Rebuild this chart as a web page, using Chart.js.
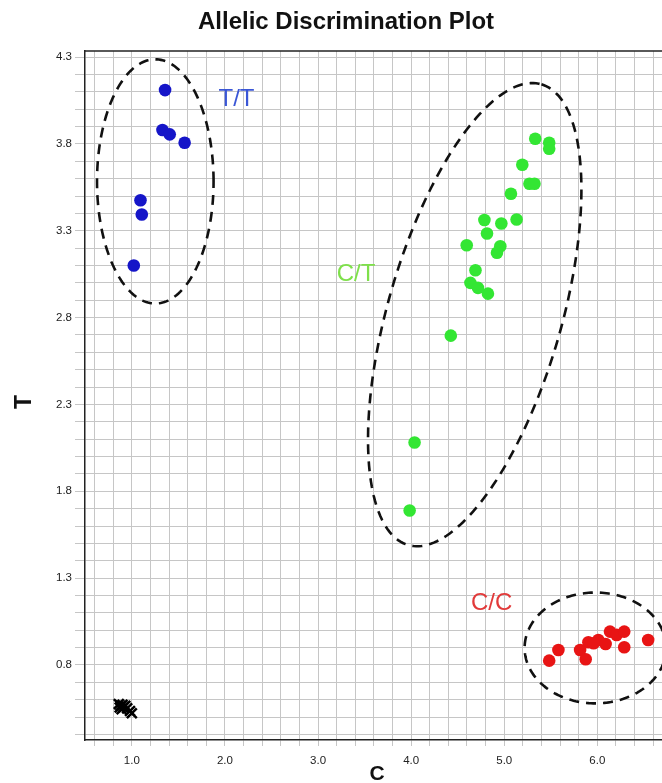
<!DOCTYPE html>
<html><head><meta charset="utf-8">
<script src="https://cdn.jsdelivr.net/npm/chart.js@4/dist/chart.umd.min.js"></script>
<style>html,body{margin:0;padding:0;background:#fff;overflow:hidden;width:662px;height:783px}</style>
</head><body>
<canvas id="c" width="672" height="783"></canvas>
<script>
// ---- data ----
const ttX = [1.357, 1.329, 1.407, 1.567, 1.093, 1.107, 1.021];
const ttY = [4.110, 3.880, 3.855, 3.807, 3.476, 3.394, 3.100];

const ctX = [5.333, 5.483, 5.483, 5.194, 5.271, 5.325, 5.072, 5.133, 4.969, 4.787, 4.815, 4.597, 4.958, 4.922, 4.691, 4.637, 4.718, 4.825, 4.426, 4.037, 3.984];
const ctY = [3.830, 3.807, 3.772, 3.680, 3.571, 3.571, 3.513, 3.365, 3.342, 3.362, 3.284, 3.217, 3.211, 3.173, 3.073, 3.000, 2.971, 2.938, 2.696, 2.081, 1.689];

const ccX = [5.483, 5.582, 5.815, 5.875, 5.904, 6.011, 6.089, 6.136, 6.207, 6.289, 6.289, 6.546, 5.960];
const ccY = [0.825, 0.886, 0.886, 0.833, 0.931, 0.944, 0.921, 0.992, 0.973, 0.992, 0.902, 0.944, 0.925];

const ntcX = [0.86, 0.88, 0.87, 0.90, 0.91, 0.89, 0.95, 0.98, 0.93, 1.00];
const ntcY = [0.575, 0.565, 0.555, 0.570, 0.555, 0.545, 0.550, 0.535, 0.565, 0.522];

const xTickLabels = ['1.0', '2.0', '3.0', '4.0', '5.0', '6.0'];
const yTickLabels = ['0.8', '1.3', '1.8', '2.3', '2.8', '3.3', '3.8', '4.3'];

const groupLabels = ['T/T', 'C/T', 'C/C'];

// cluster ellipses in data units: centre, two conjugate half-axis vectors
const ellipseTT = {cx: 1.252, cy: 3.584, ux: 0.626, uy: 0, vx: 0, vy: 0.703};
const ellipseCT = {cx: 4.683, cy: 2.817, ux: 0.717, uy: 1.326, vx: 0.894, vy: -0.141};
const ellipseCC = {cx: 5.979, cy: 0.898, ux: 0.760, uy: 0, vx: 0, vy: 0.319};
// group label anchors (data units)
const labelTT = {x: 2.124, y: 4.056};
const labelCT = {x: 3.409, y: 3.048};
const labelCC = {x: 4.865, y: 1.152};

// ---- build ----
const pts = (xs, ys) => xs.map((x, i) => ({x: x, y: ys[i]}));
const xGrid = []; for (let i = 3; i <= 33; i++) xGrid.push(+(i * 0.2).toFixed(1));
const yGrid = []; for (let i = 4; i <= 43; i++) yGrid.push(+(i * 0.1).toFixed(1));

const FONT = "'Liberation Sans', Arial, sans-serif";

const overlay = {
  id: 'overlay',
  beforeDatasetsDraw(chart) {
    const ctx = chart.ctx, xs = chart.scales.x, ys = chart.scales.y, a = chart.chartArea;
    ctx.save();
    ctx.strokeStyle = '#222'; ctx.lineWidth = 1.5;
    ctx.beginPath(); ctx.moveTo(a.left, a.top); ctx.lineTo(a.right, a.top); ctx.stroke();
    ctx.beginPath();
    ctx.rect(a.left, a.top, a.right - a.left, a.bottom - a.top);
    ctx.clip();
    ctx.strokeStyle = '#111'; ctx.lineWidth = 2.6; ctx.setLineDash([10, 7]);
    [ellipseTT, ellipseCT, ellipseCC].forEach(e => {
      ctx.beginPath();
      for (let k = 0; k <= 200; k++) {
        const t = k / 200 * Math.PI * 2;
        const dx = e.cx + e.ux * Math.cos(t) + e.vx * Math.sin(t);
        const dy = e.cy + e.uy * Math.cos(t) + e.vy * Math.sin(t);
        const px = xs.getPixelForValue(dx), py = ys.getPixelForValue(dy);
        if (k === 0) ctx.moveTo(px, py); else ctx.lineTo(px, py);
      }
      ctx.stroke();
    });
    ctx.setLineDash([]);
    ctx.font = "24px " + FONT;
    ctx.textAlign = 'center'; ctx.textBaseline = 'middle';
    [[labelTT, '#3a56d6', groupLabels[0]], [labelCT, '#7ee04a', groupLabels[1]], [labelCC, '#e23a3a', groupLabels[2]]].forEach(([p, col, txt]) => {
      ctx.fillStyle = col;
      ctx.fillText(txt, xs.getPixelForValue(p.x), ys.getPixelForValue(p.y));
    });
    ctx.restore();
  },
  afterDraw(chart) {
    const ctx = chart.ctx;
    ctx.save();
    ctx.fillStyle = '#111';
    ctx.textAlign = 'center'; ctx.textBaseline = 'middle';
    ctx.font = "bold 24px " + FONT;
    ctx.fillText('Allelic Discrimination Plot', 346, 22);
    ctx.font = "bold 21px " + FONT;
    ctx.fillText('C', 377, 774);
    ctx.translate(25, 402); ctx.rotate(-Math.PI / 2);
    ctx.font = "bold 23px " + FONT;
    ctx.fillText('T', 0, 0);
    ctx.restore();
  }
};

new Chart(document.getElementById('c'), {
  type: 'scatter',
  data: {
    datasets: [
      {label: 'NTC', data: pts(ntcX, ntcY), pointStyle: 'crossRot', radius: 7, borderColor: '#000', backgroundColor: '#000', borderWidth: 2.5},
      {label: groupLabels[0], data: pts(ttX, ttY), pointStyle: 'circle', radius: 6.3, backgroundColor: '#1515c8', borderColor: '#1515c8', borderWidth: 0},
      {label: groupLabels[1], data: pts(ctX, ctY), pointStyle: 'circle', radius: 6.3, backgroundColor: '#33e633', borderColor: '#33e633', borderWidth: 0},
      {label: groupLabels[2], data: pts(ccX, ccY), pointStyle: 'circle', radius: 6.3, backgroundColor: '#e81414', borderColor: '#e81414', borderWidth: 0}
    ]
  },
  options: {
    responsive: false,
    animation: false,
    layout: {padding: {top: 51, left: 0, right: 0, bottom: 0}},
    plugins: {legend: {display: false}, tooltip: {enabled: false}, title: {display: false}},
    scales: {
      x: {
        type: 'linear', min: 0.497, max: 6.70,
        afterBuildTicks: s => { s.ticks = xGrid.map(v => ({value: v})); },
        afterFit: s => { s.height = 43; },
        grid: {color: '#c6c6c6', lineWidth: 1, tickLength: 6},
        border: {color: '#222', width: 1.5},
        ticks: {
          autoSkip: false, maxRotation: 0, padding: 8, color: '#222',
          font: {family: FONT, size: 11.5},
          callback: v => { const s = Number(v).toFixed(1); return xTickLabels.includes(s) ? s : ''; }
        }
      },
      y: {
        type: 'linear', min: 0.368, max: 4.335,
        afterBuildTicks: s => { s.ticks = yGrid.map(v => ({value: v})); },
        afterFit: s => { s.width = 85; },
        grid: {color: '#c6c6c6', lineWidth: 1, tickLength: 10},
        border: {color: '#222', width: 1.5},
        ticks: {
          autoSkip: false, padding: 3, color: '#222',
          font: {family: FONT, size: 11.5},
          callback: v => { const s = Number(v).toFixed(1); return yTickLabels.includes(s) ? s : ''; }
        }
      }
    }
  },
  plugins: [overlay]
});
</script>
</body></html>
